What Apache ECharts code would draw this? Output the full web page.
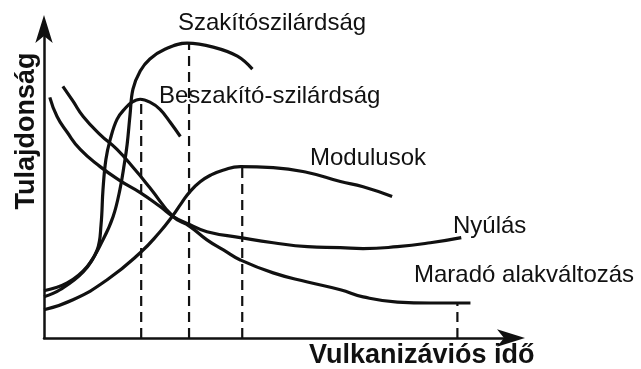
<!DOCTYPE html>
<html>
<head>
<meta charset="utf-8">
<script src="https://cdn.jsdelivr.net/npm/echarts@6/dist/echarts.min.js"></script>
<style>
  html, body { margin: 0; padding: 0; background: #fff; }
  #main { width: 641px; height: 369px; }
</style>
</head>
<body>
<div id="main"></div>
<script>
// görbék adatai (idő, tulajdonság), 0..100 skálán
const szakito = [[0, 14.6], [4.8, 17.0], [8.9, 22.0], [12.2, 30.3], [14.3, 37.5], [15.7, 45.8], [16.6, 53.6],
  [17.2, 59.8], [17.8, 69.0], [18.4, 76.8], [19.9, 82.4], [21.9, 86.1], [25.1, 89.2], [29.6, 91.0],
  [35.0, 89.8], [40.0, 87.0], [43.1, 83.0]];
const beszakito = [[0, 12.7], [3.3, 14.9], [8.1, 20.4], [11.0, 27.2], [11.8, 35.0], [12.2, 45.8], [12.8, 55.1],
  [13.7, 61.3], [15.1, 67.5], [16.8, 70.9], [18.2, 72.8], [19.9, 73.7], [21.9, 72.8], [24.0, 70.6],
  [26.1, 66.6], [28.2, 62.2]];
const modulusok = [[0, 8.7], [6.0, 11.8], [13.0, 17.9], [19.9, 26.3], [24.0, 32.8], [26.5, 37.5], [28.5, 41.8],
  [30.2, 45.2], [32.3, 48.2], [34.5, 50.3], [37.0, 51.8], [40.6, 52.9], [47.4, 52.6], [54.5, 51.1],
  [61.3, 48.3], [66.0, 46.7], [72.0, 43.7]];
const nyulas = [[1.2, 74.3], [2.7, 68.4], [4.8, 63.5], [7.5, 58.2], [11.6, 52.9], [15.7, 48.6], [19.9, 44.9],
  [24.0, 40.6], [26.7, 37.5], [30.2, 35.0], [33.7, 32.8], [40.6, 31.0], [47.4, 29.4], [54.5, 28.2],
  [61.3, 27.9], [66.0, 27.6], [73.1, 28.2], [79.9, 29.4], [86.3, 31.0]];
const marado = [[3.9, 77.7], [6.0, 73.1], [8.1, 68.4], [11.6, 62.8], [15.1, 58.2], [18.8, 52.0], [21.9, 46.4],
  [26.7, 37.5], [30.2, 34.4], [33.7, 30.3], [37.1, 27.2], [40.6, 24.1], [47.4, 20.1], [54.5, 17.3],
  [61.3, 14.9], [66.0, 12.7], [73.1, 11.1], [79.9, 10.8], [88.2, 10.8]];
// szaggatott függőleges vonalak: x helye és felső vége
const dashX = [20.1, 30.0, 41.0, 85.5];
const dashTop = [73.7, 91.0, 52.9, 10.8];

const chart = echarts.init(document.getElementById('main'));
const font = '"Liberation Sans", Arial, sans-serif';
const black = '#111';

const curve = (name, data, smooth) => ({
  name: name,
  type: 'line',
  data: data,
  smooth: smooth,
  showSymbol: false,
  lineStyle: { color: black, width: 3.2 },
  z: 3
});

const dashSeries = dashX.map((x, i) => ({
  type: 'line',
  data: [[x, 0], [x, dashTop[i]]],
  showSymbol: false,
  lineStyle: { color: black, width: 2.2, type: [10, 6] },
  z: 2
}));

const label = (text, x, y) => ({
  type: 'text', left: x, top: y,
  style: { text: text, font: '24px ' + font, fill: black }
});

const axisLine = {
  show: true,
  symbol: ['none', 'arrow'],
  symbolSize: [13, 28],
  symbolOffset: [0, 12],
  lineStyle: { color: black, width: 2.5 }
};

const option = {
  animation: false,
  backgroundColor: '#fff',
  grid: { left: 44, right: 128, top: 27, bottom: 31 },
  xAxis: {
    type: 'value', min: 0, max: 97,
    axisLine: axisLine,
    axisTick: { show: false }, axisLabel: { show: false }, splitLine: { show: false }
  },
  yAxis: {
    type: 'value', min: 0, max: 96,
    axisLine: axisLine,
    axisTick: { show: false }, axisLabel: { show: false }, splitLine: { show: false }
  },
  series: [
    curve('Szakítószilárdság', szakito, 0.4),
    curve('Beszakító-szilárdság', beszakito, 0.4),
    curve('Modulusok', modulusok, 0.5),
    curve('Nyúlás', nyulas, 0.5),
    curve('Maradó alakváltozás', marado, 0.5)
  ].concat(dashSeries),
  graphic: [
    label('Szakítószilárdság', 178, 11),
    label('Beszakító-szilárdság', 159, 84),
    label('Modulusok', 310, 146),
    label('Nyúlás', 453, 214),
    label('Maradó alakváltozás', 414, 263),
    {
      type: 'text', x: 27, y: 131, rotation: Math.PI / 2,
      style: { text: 'Tulajdonság', font: 'bold 27px ' + font, fill: black, align: 'center', verticalAlign: 'middle' }
    },
    {
      type: 'text', left: 309, top: 342,
      style: { text: 'Vulkanizáviós idő', font: 'bold 27px ' + font, fill: black }
    }
  ]
};

chart.setOption(option);
</script>
</body>
</html>
